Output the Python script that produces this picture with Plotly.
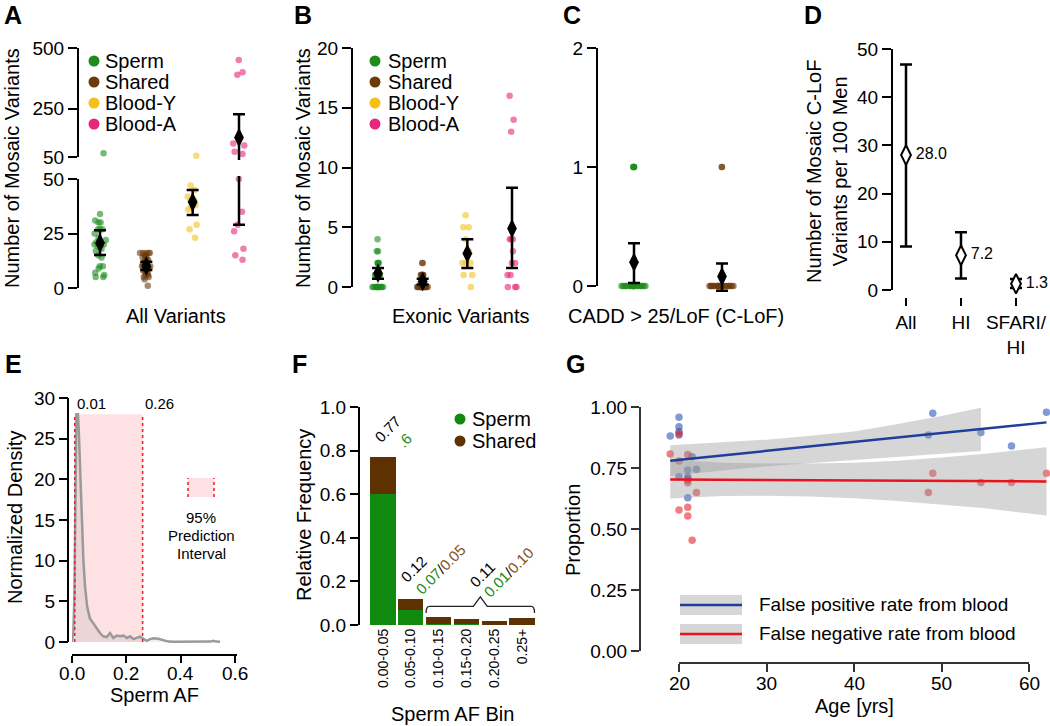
import plotly.graph_objects as go

W, H = 1050, 726
FONT = "Liberation Sans, Arial, sans-serif"

# ---------------- data ----------------
groups = ["Sperm", "Shared", "Blood-Y", "Blood-A"]
group_colors = ["#1c8c1c", "#6b3b0b", "#f3c11a", "#e8267c"]

# Panel A: all variants per individual
all_sperm = [65, 34, 31, 30, 30, 27, 27, 27, 25, 23, 22, 21, 20, 20, 19, 18, 17, 15, 14, 10, 10, 9, 7, 6, 5, 5]
all_shared = [16, 16, 16, 16, 16, 15, 15, 14, 14, 13, 13, 12, 12, 11, 11, 10, 10, 10, 9, 9, 9, 8, 8, 7, 7, 6, 6, 5, 5, 4, 1]
all_blood_y = [55, 47, 45, 42, 40, 40, 39, 38, 37, 36, 29, 27, 23]
all_blood_a = [450, 400, 390, 106, 97, 72, 62, 50, 35, 29, 26, 18, 15, 13]
all_mean = [20.6, 10.1, 39.4, 130.0]
all_ci_lo = [15.1, 8.2, 33.5, 29.0]
all_ci_hi = [26.5, 12.0, 45.0, 226.0]
all_break = 50
all_ticks_upper = [50, 250, 500]
all_ticks_lower = [0, 25, 50]

# Panel B: exonic variants
exo_sperm = [4, 3, 3, 2, 2, 2, 2, 1, 1, 1, 1, 1, 1, 1, 1, 0, 0, 0, 0, 0, 0, 0, 0, 0, 0, 0]
exo_shared = [2, 2, 1, 1, 1, 1, 1, 1, 1, 0, 0, 0, 0, 0, 0, 0, 0, 0, 0, 0, 0, 0, 0, 0, 0, 0]
exo_blood_y = [6, 5, 5, 4, 3, 3, 2, 2, 2, 1, 1, 0]
exo_blood_a = [16, 14, 13, 4, 4, 4, 3, 2, 2, 1, 1, 0, 0, 0]
exo_mean = [1.15, 0.45, 2.8, 4.9]
exo_ci_lo = [0.7, 0.2, 1.6, 1.6]
exo_ci_hi = [1.6, 0.7, 4.0, 8.3]
exo_ticks = [0, 5, 10, 15, 20]

# Panel C: CADD>25 / LoF
clof_groups = ["Sperm", "Shared"]
clof_sperm = [1, 1, 1, 1, 1, 0, 0, 0, 0, 0, 0, 0, 0, 0, 0, 0, 0, 0, 0, 0, 0, 0, 0, 0, 0, 0]
clof_shared = [1, 1, 0, 0, 0, 0, 0, 0, 0, 0, 0, 0, 0, 0, 0, 0, 0, 0, 0, 0, 0, 0, 0, 0, 0, 0]
clof_mean = [0.2, 0.08]
clof_ci_lo = [0.025, -0.04]
clof_ci_hi = [0.36, 0.19]
clof_ticks = [0, 1, 2]

# Panel D: C-LoF per 100 men
d_cats = ["All", "HI", "SFARI/<br>HI"]
d_mean = [28.0, 7.2, 1.3]
d_lo = [9.0, 2.4, 0.4]
d_hi = [46.8, 12.0, 2.3]
d_ticks = [0, 10, 20, 30, 40, 50]

# Panel E: sperm AF density
e_af = [0.0, 0.005, 0.009, 0.013, 0.016, 0.019, 0.022, 0.025, 0.03, 0.036, 0.042, 0.048, 0.056,
        0.066, 0.078, 0.09, 0.103, 0.115, 0.128, 0.14, 0.152, 0.165, 0.177, 0.19, 0.202, 0.214,
        0.226, 0.238, 0.25, 0.263, 0.275, 0.287, 0.3, 0.318, 0.337, 0.355, 0.374, 0.42, 0.47,
        0.51, 0.52, 0.53, 0.545]
e_density = [0.0, 1.2, 6.0, 22.0, 28.0, 28.0, 28.0, 26.0, 21.0, 15.0, 10.0, 6.8, 4.3,
             2.9, 2.3, 1.7, 1.1, 0.7, 0.6, 1.1, 0.5, 0.8, 0.7, 0.8, 0.5, 0.7,
             0.35, 0.5, 0.65, 0.4, 0.15, 0.35, 0.45, 0.4, 0.2, 0.05, 0.02, 0.02, 0.02,
             0.05, 0.15, 0.05, 0.02]
e_pi = [0.01, 0.26]
e_xticks = [0.0, 0.2, 0.4, 0.6]
e_yticks = [0, 5, 10, 15, 20, 25, 30]

# Panel F: relative frequency by sperm AF bin
f_bins = ["0.00-0.05", "0.05-0.10", "0.10-0.15", "0.15-0.20", "0.20-0.25", "0.25+"]
f_sperm = [0.60, 0.07, 0.004, 0.006, 0.0, 0.0]
f_shared = [0.17, 0.05, 0.032, 0.020, 0.018, 0.032]
f_yticks = [0.0, 0.2, 0.4, 0.6, 0.8, 1.0]

# Panel G: false positive / negative rates vs age
fp_age = [19, 20, 20, 20, 20, 20, 21, 21, 21, 21, 21.5, 22, 49, 48.5, 54.5, 58, 62]
fp_rate = [0.881, 0.958, 0.919, 0.90, 0.885, 0.714, 0.742, 0.714, 0.705, 0.628, 0.796, 0.745,
           0.974, 0.885, 0.895, 0.84, 0.978]
fn_age = [19, 20, 20, 21, 21, 21, 22, 20, 21, 21, 21.5, 48.5, 49, 54.5, 58, 62]
fn_rate = [0.807, 0.779, 0.89, 0.805, 0.70, 0.69, 0.65, 0.578, 0.589, 0.553, 0.454,
           0.65, 0.728, 0.691, 0.691, 0.728]
fp_fit_age = [19, 62]
fp_fit = [0.78, 0.937]
fn_fit_age = [19, 62]
fn_fit = [0.703, 0.695]
fp_band_age = [19, 25, 30, 35, 40, 45, 50, 54.5]
fp_band_lo = [0.717, 0.74, 0.757, 0.77, 0.782, 0.795, 0.808, 0.82]
fp_band_hi = [0.843, 0.855, 0.866, 0.882, 0.90, 0.93, 0.963, 0.997]
fn_band_age = [19, 25, 30, 35, 40, 45, 50, 55, 62]
fn_band_lo = [0.625, 0.635, 0.636, 0.633, 0.626, 0.615, 0.60, 0.585, 0.555]
fn_band_hi = [0.785, 0.772, 0.768, 0.768, 0.772, 0.78, 0.793, 0.808, 0.835]
g_xticks = [20, 30, 40, 50, 60]
g_yticks = [0.0, 0.25, 0.5, 0.75, 1.0]

# ---------------- helpers ----------------
def PX(x):
    return x / W

def PY(y):
    return 1 - y / H

def span(va, pa, vb, pb, p0, p1):
    k = (vb - va) / (pb - pa)
    return [va + (p0 - pa) * k, va + (p1 - pa) * k]

GREEN, BROWN = group_colors[0], group_colors[1]
BROWN_TXT = "#83501a"
BLUE, RED = "#1f3e9c", "#e8141b"

fig = go.Figure()
shapes = []
anns = []


def strip(xcat, vals, color, xa, ya):
    if not vals:
        return
    fig.add_trace(go.Box(
        x=[xcat] * len(vals), y=vals, boxpoints="all", jitter=0.6, pointpos=0,
        fillcolor="rgba(0,0,0,0)", line=dict(color="rgba(0,0,0,0)", width=0),
        marker=dict(color=color, size=6.5, opacity=0.6, line=dict(width=0)),
        xaxis=xa, yaxis=ya, showlegend=False, hoverinfo="skip"))


def mean_ci(cats, mean, lo, hi, xa, ya, fill="black", size=14, text=None):
    if not cats:
        return
    fig.add_trace(go.Scatter(
        x=cats, y=mean, mode="markers+text" if text else "markers",
        text=text, textposition="middle right",
        textfont=dict(size=16, color="black", family=FONT),
        marker=dict(symbol="diamond-tall", size=size, color=fill,
                    line=dict(color="black", width=2 if fill != "black" else 0)),
        error_y=dict(type="data", symmetric=False,
                     array=[h - m for m, h in zip(mean, hi)],
                     arrayminus=[m - l for m, l in zip(mean, lo)],
                     color="black", thickness=2.5, width=6),
        xaxis=xa, yaxis=ya, showlegend=False, hoverinfo="skip"))


def spine_y(xpx, yref, v0, v1, color="black"):
    shapes.append(dict(type="line", xref="paper", yref=yref, x0=PX(xpx), x1=PX(xpx),
                       y0=v0, y1=v1, line=dict(color=color, width=2)))


def ann(text, x, y, size=20, angle=0, xanchor="center", yanchor="middle", color="black", bold=False):
    if bold:
        text = "<b>" + text + "</b>"
    anns.append(dict(text=text, xref="paper", yref="paper", x=PX(x), y=PY(y), showarrow=False,
                     xanchor=xanchor, yanchor=yanchor, textangle=angle,
                     font=dict(size=size, color=color, family=FONT)))


def xtick_labels(xref, vals, fmt, ypx, size=19):
    for v in vals:
        anns.append(dict(text=fmt.format(v), xref=xref, yref="paper", x=v, y=PY(ypx),
                         showarrow=False, xanchor="center", yanchor="middle",
                         font=dict(size=size, color="black", family=FONT)))


def dot(cx, cy, r, color):
    shapes.append(dict(type="circle", xref="paper", yref="paper",
                       x0=PX(cx - r), x1=PX(cx + r), y0=PY(cy + r), y1=PY(cy - r),
                       fillcolor=color, line=dict(width=0)))


# ---------------- Panel A (broken axis) ----------------
a_sets = [all_sperm, all_shared, all_blood_y, all_blood_a]
for g, vals, col in zip(groups, a_sets, group_colors):
    strip(g, [v for v in vals if v > all_break], col, "x", "y")
    strip(g, [v for v in vals if v <= all_break], col, "x", "y2")
up = [i for i, h in enumerate(all_ci_hi) if h > all_break]
mean_ci([groups[i] for i in up], [all_mean[i] for i in up], [all_ci_lo[i] for i in up],
        [all_ci_hi[i] for i in up], "x", "y")
mean_ci(groups, all_mean, all_ci_lo, all_ci_hi, "x", "y2")
spine_y(78, "y", all_ticks_upper[0], all_ticks_upper[-1])
spine_y(78, "y2", all_ticks_lower[0], all_ticks_lower[-1])

# ---------------- Panel B ----------------
b_sets = [exo_sperm, exo_shared, exo_blood_y, exo_blood_a]
for g, vals, col in zip(groups, b_sets, group_colors):
    strip(g, vals, col, "x2", "y3")
mean_ci(groups, exo_mean, exo_ci_lo, exo_ci_hi, "x2", "y3")
spine_y(352, "y3", exo_ticks[0], exo_ticks[-1])

# ---------------- Panel C ----------------
for g, vals, col in zip(clof_groups, [clof_sperm, clof_shared], group_colors[:2]):
    strip(g, vals, col, "x3", "y4")
mean_ci(clof_groups, clof_mean, clof_ci_lo, clof_ci_hi, "x3", "y4")
spine_y(597, "y4", clof_ticks[0], clof_ticks[-1])

# ---------------- Panel D ----------------
mean_ci(d_cats, d_mean, d_lo, d_hi, "x4", "y5", fill="white", size=14,
        text=[f"{v:.1f}" for v in d_mean])
fig.data[-1].cliponaxis = False
spine_y(892, "y5", d_ticks[0], d_ticks[-1])

# ---------------- Panel E ----------------
rect_top = max(e_density)
shapes.append(dict(type="rect", xref="x5", yref="y6", x0=e_pi[0], x1=e_pi[1], y0=0, y1=rect_top,
                   fillcolor="#fde1e3", line=dict(width=0), layer="below"))
fig.add_trace(go.Scatter(x=e_af, y=e_density, mode="lines", fill="tozeroy",
                         fillcolor="rgba(120,120,120,0.12)",
                         line=dict(color="#9a9a9a", width=2.5),
                         xaxis="x5", yaxis="y6", showlegend=False, hoverinfo="skip"))
for v in e_pi:
    shapes.append(dict(type="line", xref="x5", yref="y6", x0=v, x1=v, y0=0, y1=rect_top,
                       line=dict(color="#ee1c25", width=1.5, dash="dot")))
    anns.append(dict(text=f"{v:.2f}", xref="x5", yref="y6", x=v, y=rect_top, xanchor="left",
                     yanchor="bottom", xshift=0, yshift=0, showarrow=False,
                     font=dict(size=15, color="black", family=FONT)))
spine_y(68, "y6", e_yticks[0], e_yticks[-1])
xtick_labels("x5", e_xticks, "{:.1f}", 673)
# prediction-interval key
shapes.append(dict(type="rect", xref="paper", yref="paper", x0=PX(188), x1=PX(214),
                   y0=PY(497), y1=PY(478), fillcolor="#fde1e3", line=dict(width=0)))
for xx in (188, 214):
    shapes.append(dict(type="line", xref="paper", yref="paper", x0=PX(xx), x1=PX(xx),
                       y0=PY(497), y1=PY(478), line=dict(color="#ee1c25", width=1.5, dash="dot")))
ann("95%", 201, 517, size=15)
ann("Prediction", 201, 535, size=15)
ann("Interval", 201, 553, size=15)

# ---------------- Panel F ----------------
fig.add_trace(go.Bar(x=f_bins, y=f_sperm, marker=dict(color="#0f8a0f", line=dict(width=0)),
                     xaxis="x6", yaxis="y7", showlegend=False, hoverinfo="skip"))
fig.add_trace(go.Bar(x=f_bins, y=f_shared, marker=dict(color="#5e3200", line=dict(width=0)),
                     xaxis="x6", yaxis="y7", showlegend=False, hoverinfo="skip"))
tot = [a + b for a, b in zip(f_sperm, f_shared)]
rest_tot = sum(tot[2:])
rest_sp = sum(f_sperm[2:])
rest_sh = sum(f_shared[2:])
ann(f"{tot[0]:.2f}", 387, 429, size=15, angle=-45)
ann(f"{f_sperm[0]:.1f}".lstrip("0"), 404, 440, size=15, angle=-45, color=GREEN)
ann(f"{tot[1]:.2f}", 413, 569, size=15, angle=-45)
ann(f"<span style='color:{GREEN}'>{f_sperm[1]:.2f}</span>/<span style='color:{BROWN_TXT}'>{f_shared[1]:.2f}</span>",
    440, 569, size=15, angle=-45)
ann(f"{rest_tot:.2f}", 482, 574, size=15, angle=-45)
ann(f"<span style='color:{GREEN}'>{rest_sp:.2f}</span>/<span style='color:{BROWN_TXT}'>{rest_sh:.2f}</span>",
    508, 572, size=15, angle=-45)
# brace over the small bins
bl, br = 2 - 0.45, len(f_bins) - 1 + 0.45
bm = (bl + br) / 2
yb = max(tot[2:]) + 0.049
ye, yp = yb - 0.03, yb + 0.044
shapes.append(dict(type="path", xref="x6", yref="y7",
                   path=(f"M{bl},{ye} Q{bl},{yb} {bl + 0.12},{yb} L{bm - 0.25},{yb} L{bm},{yp} "
                         f"L{bm + 0.25},{yb} L{br - 0.12},{yb} Q{br},{yb} {br},{ye}"),
                   line=dict(color="#222", width=1.3)))
dot(460, 419, 5.5, "#0f8a0f")
dot(460, 441, 5.5, "#5e3200")
ann("Sperm", 470, 419, size=20, xanchor="left")
ann("Shared", 470, 441, size=20, xanchor="left")

# ---------------- Panel G ----------------
fig.add_trace(go.Scatter(x=fp_age, y=fp_rate, mode="markers",
                         marker=dict(color="#2a56b8", size=7.5, opacity=0.6),
                         xaxis="x7", yaxis="y8", showlegend=False, hoverinfo="skip"))
fig.add_trace(go.Scatter(x=fn_age, y=fn_rate, mode="markers",
                         marker=dict(color="#e8262c", size=7.5, opacity=0.6),
                         xaxis="x7", yaxis="y8", showlegend=False, hoverinfo="skip"))
for ages, lo, hi in ((fp_band_age, fp_band_lo, fp_band_hi), (fn_band_age, fn_band_lo, fn_band_hi)):
    fig.add_trace(go.Scatter(x=ages + ages[::-1], y=hi + lo[::-1], mode="lines", fill="toself",
                             fillcolor="rgba(153,153,153,0.4)", line=dict(width=0),
                             xaxis="x7", yaxis="y8", showlegend=False, hoverinfo="skip"))
fig.add_trace(go.Scatter(x=fp_fit_age, y=fp_fit, mode="lines", line=dict(color=BLUE, width=2.5),
                         xaxis="x7", yaxis="y8", showlegend=False, hoverinfo="skip"))
fig.add_trace(go.Scatter(x=fn_fit_age, y=fn_fit, mode="lines", line=dict(color=RED, width=2.5),
                         xaxis="x7", yaxis="y8", showlegend=False, hoverinfo="skip"))
shapes.append(dict(type="line", xref="x7", yref="paper", x0=g_xticks[0], x1=g_xticks[-1],
                   y0=PY(663), y1=PY(663), line=dict(color="#333333", width=2)))
xtick_labels("x7", g_xticks, "{:d}", 683)
for (ytop, ybot, ymid, col, label) in ((595, 615, 605, BLUE, "False positive rate from blood"),
                                       (624, 644, 634, RED, "False negative rate from blood")):
    shapes.append(dict(type="rect", xref="paper", yref="paper", x0=PX(680), x1=PX(742),
                       y0=PY(ybot), y1=PY(ytop), fillcolor="rgba(153,153,153,0.4)", line=dict(width=0)))
    shapes.append(dict(type="line", xref="paper", yref="paper", x0=PX(680), x1=PX(742),
                       y0=PY(ymid), y1=PY(ymid), line=dict(color=col, width=2.5)))
    ann(label, 757, ymid - 1, size=19, xanchor="left")

# ---------------- legends A, B ----------------
for lx, tx in ((94, 103), (375, 386)):
    for i, (g, col) in enumerate(zip(groups, group_colors)):
        cy = 61 + i * 21
        dot(lx, cy, 5.5, col)
        ann(g, tx, cy, size=20, xanchor="left")

# ---------------- titles & panel letters ----------------
ann("Number of Mosaic Variants", 12, 168, angle=-90)
ann("Number of Mosaic Variants", 303, 168, angle=-90)
ann("All Variants", 176, 316)
ann("Exonic Variants", 460, 316)
ann("CADD > 25/LoF (C-LoF)", 676, 316)
ann("Number of Mosaic C-LoF<br>Variants per 100 Men", 827, 172, angle=-90)
ann("Normalized Density", 15, 518, angle=-90)
ann("Sperm AF", 154, 695)
ann("Relative Frequency", 304, 515, angle=-90)
ann("Sperm AF Bin", 452, 714)
ann("Proportion", 573, 530, angle=-90)
ann("Age [yrs]", 854, 706)
for letter, x, y in (("A", 13, 15), ("B", 303, 15), ("C", 572, 15), ("D", 813, 15),
                     ("E", 13, 364), ("F", 299, 364), ("G", 575, 364)):
    ann(letter, x, y, size=25, bold=True)

# ---------------- axes ----------------
base = dict(showgrid=False, zeroline=False, showline=False, ticks="outside", ticklen=9,
            tickwidth=2, tickcolor="black", linecolor="black", linewidth=2, automargin=False,
            tickfont=dict(size=19, color="black", family=FONT))
hidden_x = dict(base, showticklabels=False, ticks="")

fig.update_layout(
    width=W, height=H, margin=dict(l=0, r=0, t=0, b=0, pad=0, autoexpand=False),
    paper_bgcolor="white", plot_bgcolor="white",
    font=dict(family=FONT, color="black"),
    showlegend=False, boxmode="overlay", barmode="stack", bargap=0.1,
    shapes=shapes, annotations=anns,
    xaxis=dict(hidden_x, domain=[PX(78), PX(262)], type="category", categoryorder="array",
               categoryarray=groups, range=span(0, 100, 3, 239, 78, 262), anchor="y2"),
    yaxis=dict(base, domain=[PY(160), PY(48)], range=span(50, 157, 500, 48, 160, 48),
               tickvals=all_ticks_upper, anchor="x"),
    yaxis2=dict(base, domain=[PY(298), PY(176)], range=span(0, 288, 50, 179, 298, 176),
                tickvals=all_ticks_lower, anchor="x"),
    xaxis2=dict(hidden_x, domain=[PX(352), PX(535)], type="category", categoryorder="array",
                categoryarray=groups, range=span(0, 378, 3, 512, 352, 535), anchor="y3"),
    yaxis3=dict(base, domain=[PY(297), PY(48)], range=span(0, 287, 20, 48, 297, 48),
                tickvals=exo_ticks, anchor="x2"),
    xaxis3=dict(hidden_x, domain=[PX(597), PX(770)], type="category", categoryorder="array",
                categoryarray=clof_groups, range=span(0, 634, 1, 722, 597, 770), anchor="y4"),
    yaxis4=dict(base, domain=[PY(296), PY(48)], range=span(0, 286, 2, 48, 296, 48),
                tickvals=clof_ticks, anchor="x3"),
    xaxis4=dict(base, domain=[PX(892), PX(1045)], type="category", categoryorder="array",
                categoryarray=d_cats, range=span(0, 906, 2, 1016, 892, 1045), anchor="y5",
                ticklen=8),
    yaxis5=dict(base, domain=[PY(297), PY(49)], range=span(0, 290, 50, 49, 297, 49),
                tickvals=d_ticks, anchor="x4"),
    xaxis5=dict(base, domain=[PX(72), PX(237)], range=span(0, 72, 0.6, 235, 72, 237),
                tickvals=e_xticks, showticklabels=False, showline=True, anchor="free",
                position=PY(655), ticklen=7),
    yaxis6=dict(base, domain=[PY(646), PY(398)], range=span(0, 642, 30, 398, 646, 398),
                tickvals=e_yticks, anchor="free", position=PX(68)),
    xaxis6=dict(hidden_x, domain=[PX(360), PX(540)], type="category", categoryorder="array",
                categoryarray=f_bins, range=span(0, 383, 5, 522, 360, 540), anchor="y7",
                showticklabels=True, tickangle=-90, tickfont=dict(size=14, color="black", family=FONT)),
    yaxis7=dict(base, domain=[PY(625), PY(407)], range=[0, 1.0], tickvals=f_yticks,
                tickformat=".1f", showline=True, anchor="x6", ticklen=8),
    xaxis7=dict(base, domain=[PX(641), 1.0], range=span(20, 679, 60, 1029, 641, 1050),
                tickvals=g_xticks, showticklabels=False, anchor="free", position=PY(663),
                tickcolor="#333333", ticklen=8),
    yaxis8=dict(base, domain=[PY(651), PY(407)], range=[0, 1.0], tickvals=g_yticks,
                tickformat=".2f", showline=True, linecolor="#333333", tickcolor="#333333",
                anchor="x7", ticklen=8),
)

fig.write_html("out.html", config={"displayModeBar": False},
               post_script="document.body.style.margin='0px';document.body.style.padding='0px';"
                           "document.body.style.overflow='hidden';")
